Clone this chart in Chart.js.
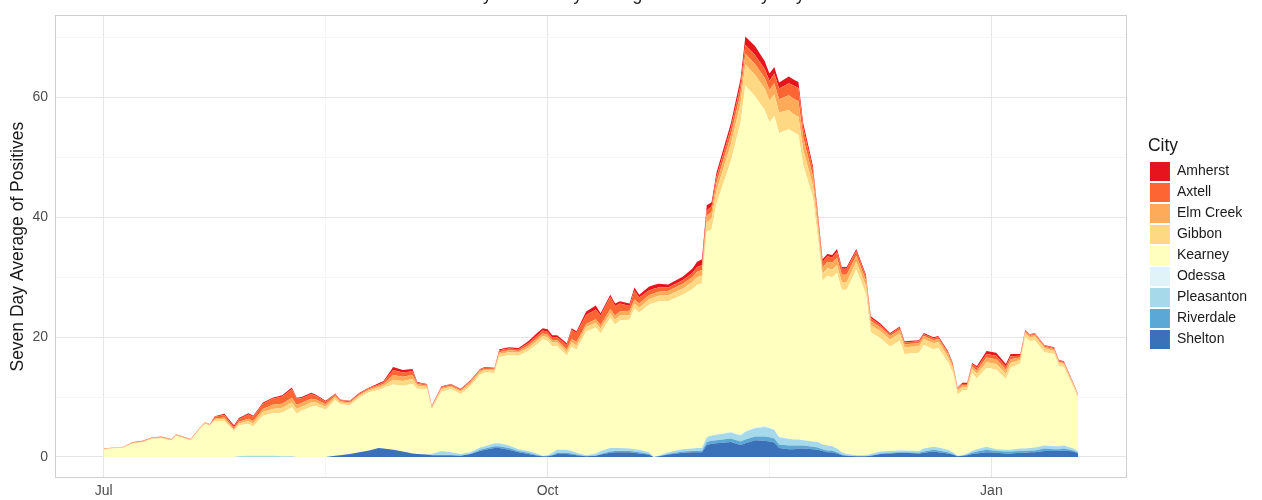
<!DOCTYPE html>
<html><head><meta charset="utf-8">
<script src="https://cdn.jsdelivr.net/npm/chart.js@4.4.1/dist/chart.umd.min.js"></script>
<style>html,body{margin:0;padding:0;background:#fff;}#wrap{position:relative;width:1262px;height:500px;}</style>
</head><body><div id="wrap"><canvas id="c" width="1262" height="500"></canvas></div>
<script>
// Days since Jul 1
const days = [0,2,4,6,8,10,12,14,15,17,
 18,20,21,22,23,25,27,28,30,31,
 33,35,37,39,40,41,43,44,46,48,
 49,51,53,55,57,58,60,62,64,65,
 67,68,70,72,74,76,78,79,81,82,
 84,86,88,90,91,92,93,94,96,97,
 98,100,102,103,105,106,107,109,110,111,
 113,114,115,117,120,122,123,124,125,126,
 127,130,132,133,135,137,138,139,140,142,
 143,144,145,147,148,149,150,151,152,153,
 154,156,158,159,161,163,165,166,169,170,
 172,173,175,176,177,178,179,180,181,183,
 185,187,188,190,191,192,193,195,197,198,
 199,201,202];

const shelton = [0,0,0,0,0,0,0,0,0,0,
 0,0,0,0,0,0,0,0,0,0,
 0,0,0,0,0,0,0,0,0,0.2,
 0.3,0.5,0.8,1.1,1.5,1.4,1.2,0.9,0.6,0.5,
 0.4,0.3,0.3,0.3,0.2,0.5,1.0,1.2,1.5,1.5,
 1.2,0.8,0.5,0.2,0.1,0.1,0.3,0.5,0.5,0.4,
 0.3,0.1,0.2,0.4,0.7,0.8,0.8,0.8,0.7,0.6,
 0.4,0,0.1,0.4,0.7,0.8,0.8,0.8,2.0,2.2,
 2.3,2.5,2.0,2.3,2.8,2.7,2.6,2.4,1.5,1.3,
 1.3,1.4,1.4,1.3,1.2,1.0,0.8,0.8,0.6,0.3,
 0.2,0.1,0.1,0.2,0.5,0.6,0.7,0.7,0.6,0.7,
 0.9,0.8,0.6,0.4,0.1,0.2,0.3,0.5,0.6,0.8,
 0.7,0.6,0.6,0.7,0.7,0.8,0.8,1.0,1.0,1.0,
 1.1,0.9,0.6];

const riverdale = [0,0,0,0,0,0,0,0,0,0,
 0,0,0,0,0,0,0,0,0,0,
 0,0,0,0,0,0,0,0,0,0,
 0,0,0,0,0,0,0,0,0,0,
 0,0,0,0,0,0,0.2,0.2,0.3,0.3,
 0.3,0.2,0.2,0.1,0,0,0,0.2,0.2,0.2,
 0.1,0,0,0.1,0.2,0.2,0.2,0.2,0.2,0.2,
 0.1,0,0,0.1,0.2,0.2,0.2,0.2,0.5,0.5,
 0.5,0.6,0.6,0.6,0.6,0.7,0.7,0.7,0.6,0.6,
 0.6,0.5,0.5,0.4,0.4,0.3,0.3,0.3,0.2,0.1,
 0,0,0,0,0.1,0.1,0.1,0.1,0.1,0.2,
 0.3,0.3,0.2,0.1,0,0,0.1,0.2,0.3,0.4,
 0.3,0.3,0.3,0.3,0.3,0.3,0.3,0.4,0.3,0.3,
 0.3,0.2,0.1];

const pleasanton = [0,0,0,0,0,0,0,0,0,0,
 0,0,0,0,0,0,0,0.1,0.2,0.2,
 0.2,0.2,0.1,0.1,0,0,0,0,0,0,
 0,0,0,0,0,0,0,0,0,0,
 0,0.2,0.7,0.5,0.3,0.3,0.4,0.4,0.5,0.5,
 0.4,0.3,0.3,0.2,0.1,0.2,0.4,0.5,0.5,0.4,
 0.3,0.2,0.4,0.5,0.6,0.5,0.5,0.4,0.4,0.4,
 0.3,0,0.1,0.3,0.4,0.4,0.5,0.5,0.8,0.9,
 0.9,1.0,1.0,1.3,1.4,1.6,1.5,1.4,1.2,1.1,
 1.0,1.0,0.9,0.9,0.9,0.8,0.8,0.7,0.6,0.4,
 0.3,0.2,0.2,0.3,0.3,0.3,0.3,0.3,0.3,0.5,
 0.5,0.5,0.4,0.3,0.1,0.1,0.2,0.3,0.4,0.5,
 0.3,0.3,0.3,0.4,0.4,0.4,0.5,0.5,0.5,0.5,
 0.5,0.3,0.2];

const odessa = [0,0,0,0,0,0,0,0,0,0,
 0,0,0,0,0,0,0,0,0,0,
 0,0,0,0,0,0,0,0,0,0,
 0,0,0,0,0,0,0,0,0,0,
 0,0,0,0,0,0,0,0,0,0,
 0,0,0,0,0,0,0,0,0,0,
 0,0,0,0,0,0,0,0,0,0,
 0,0,0,0,0,0,0,0,0,0,
 0,0.1,0.1,0.1,0.1,0.2,0.1,0.1,0.1,0.1,
 0,0,0,0,0,0,0,0,0,0,
 0,0,0,0,0,0,0,0,0,0,
 0,0,0,0,0,0,0,0,0,0,
 0,0,0,0,0,0,0,0,0,0,
 0,0,0];

const kearney = [1.2,1.4,1.5,2.2,2.4,3.0,3.1,2.7,3.5,3.0,
 2.7,4.7,5.5,5.2,6.0,6.0,4.3,5.2,5.3,4.9,
 6.7,7.1,7.3,8.2,7.2,7.7,8.4,8.5,7.9,9.3,
 8.5,8.1,9.1,9.7,9.7,10.1,10.9,11.0,11.6,10.9,
 10.9,7.4,9.9,10.5,10.0,11.0,12.1,12.3,11.7,14.4,
 15.1,15.6,16.7,18.4,19.4,19.1,17.8,17.3,15.7,17.4,
 17.2,20.6,21.0,19.6,21.7,20.6,21.3,21.5,23.5,22.9,
 24.6,25.7,25.8,25.2,25.8,26.6,27.2,27.5,34.3,34.4,
 38.5,45.2,52.1,57.7,55.3,52.7,51.0,52.3,50.7,51.6,
 51.3,50.9,45.9,40.7,34.2,27.3,28.3,28.2,29.3,27.1,
 27.4,31.0,26.9,20.3,18.9,17.4,18.3,16.1,16.4,17.3,
 16.3,16.6,14.6,13.2,10.2,10.8,10.5,13.0,11.8,13.2,
 13.3,11.8,13.7,14.2,18.6,17.8,17.9,15.6,15.4,13.4,
 13.1,10.2,8.9];

const gibbon = [0.1,0.1,0.1,0.1,0.1,0.1,0.1,0.1,0.1,0.1,
 0.1,0.1,0.1,0.1,0.2,0.3,0.2,0.3,0.5,0.5,
 0.6,0.7,0.8,0.8,0.8,0.7,0.7,0.6,0.5,0.4,
 0.3,0.3,0.3,0.3,0.4,0.4,0.8,0.8,0.8,0.5,
 0.4,0.3,0.4,0.4,0.4,0.4,0.4,0.4,0.4,0.5,
 0.5,0.5,0.5,0.6,0.6,0.6,0.6,0.6,0.6,0.7,
 0.7,0.8,0.8,0.8,0.8,0.8,0.8,0.8,0.8,0.8,
 0.9,0.9,0.9,1.0,1.0,1.2,1.3,1.3,1.6,1.8,
 2.2,2.8,3.2,3.5,3.6,3.6,3.6,3.6,3.4,3.2,
 3.0,3.0,2.6,2.0,1.6,1.2,1.3,1.3,1.3,1.3,
 1.3,1.3,1.3,1.2,1.2,1.2,1.2,1.1,1.1,1.0,
 1.0,1.0,0.9,0.8,0.6,0.6,0.6,0.7,0.8,0.9,
 0.9,0.9,0.8,0.6,0.6,0.6,0.6,0.6,0.5,0.5,
 0.5,0.4,0.3];

const elmCreek = [0.05,0.05,0.05,0.1,0.1,0.1,0.1,0.1,0.1,0.1,
 0.1,0.1,0.1,0.1,0.2,0.3,0.2,0.3,0.4,0.4,
 0.5,0.7,0.7,0.8,0.7,0.6,0.6,0.5,0.4,0.3,
 0.2,0.2,0.2,0.2,0.3,0.3,0.8,0.7,0.7,0.3,
 0.2,0.2,0.2,0.2,0.2,0.3,0.3,0.2,0.2,0.3,
 0.3,0.3,0.4,0.4,0.4,0.4,0.4,0.4,0.5,0.6,
 0.6,0.5,0.6,0.6,0.7,0.7,0.7,0.7,0.7,0.7,
 0.7,0.7,0.7,0.7,0.8,0.8,0.9,0.9,1.1,1.1,
 1.3,1.5,1.7,1.8,1.8,1.8,1.8,1.9,2.2,2.5,
 2.6,2.6,2.0,1.5,1.2,1.0,1.1,1.1,1.2,1.2,
 1.2,1.0,1.0,0.7,0.6,0.6,0.6,0.5,0.5,0.5,
 0.5,0.5,0.5,0.4,0.3,0.3,0.3,0.4,0.5,0.8,
 0.8,0.7,0.6,0.4,0.3,0.3,0.3,0.3,0.3,0.2,
 0.2,0.2,0.1];

const axtell = [0.05,0.05,0.05,0.1,0.1,0.1,0.1,0.1,0.1,0.1,
 0.1,0.1,0.1,0.1,0.3,0.4,0.3,0.4,0.7,0.7,
 0.9,1.0,1.2,1.4,1.0,0.8,0.8,0.6,0.4,0.3,
 0.2,0.2,0.2,0.2,0.2,0.3,0.8,0.7,0.6,0.2,
 0.2,0.1,0.2,0.2,0.2,0.2,0.2,0.2,0.2,0.3,
 0.3,0.3,0.4,0.5,0.5,0.5,0.4,0.5,0.7,1.5,
 1.5,1.5,1.6,1.6,2.0,1.6,1.3,0.8,1.5,1.0,
 0.8,0.8,0.7,0.6,0.6,0.7,0.8,0.8,0.9,0.9,
 1.0,1.2,1.4,1.5,1.5,1.5,1.5,1.6,1.8,2.0,
 2.2,2.2,1.6,1.2,1.0,0.9,0.9,0.9,1.0,1.0,
 1.0,0.8,0.6,0.5,0.4,0.3,0.4,0.3,0.3,0.3,
 0.3,0.3,0.3,0.3,0.2,0.2,0.2,0.4,0.5,0.6,
 0.6,0.5,0.5,0.3,0.2,0.2,0.2,0.2,0.2,0.2,
 0.2,0.1,0.1];

const amherst = [0,0,0,0,0,0,0,0,0,0,
 0,0,0,0,0.1,0.2,0.3,0.2,0.2,0.2,
 0.2,0.2,0.2,0.3,0.2,0.2,0.2,0.2,0.2,0.1,
 0.1,0.1,0.1,0.1,0.2,0.2,0.5,0.4,0.4,0.1,
 0.1,0.1,0.1,0.1,0.1,0.1,0.1,0.1,0.1,0.2,
 0.2,0.2,0.3,0.4,0.4,0.4,0.4,0.3,0.3,0.3,
 0.3,0.6,0.7,0.4,0.4,0.4,0.4,0.4,0.5,0.5,
 0.6,0.6,0.6,0.5,0.6,0.7,0.9,1.0,0.8,0.7,
 0.7,0.8,1.0,1.4,1.5,1.3,1.2,1.1,1.0,1.1,
 1.0,1.0,0.8,0.6,0.5,0.5,0.4,0.4,0.5,0.3,
 0.3,0.3,0.3,0.3,0.3,0.2,0.2,0.2,0.2,0.2,
 0.2,0.2,0.2,0.2,0.1,0.2,0.2,0.2,0.3,0.5,
 0.5,0.4,0.4,0.3,0.1,0.1,0.1,0.1,0.1,0.1,
 0.1,0.1,0.1];

const cityNames = ['Shelton','Riverdale','Pleasanton','Odessa','Kearney','Gibbon','Elm Creek','Axtell','Amherst'];
const cityValues = [shelton, riverdale, pleasanton, odessa, kearney, gibbon, elmCreek, axtell, amherst];
const cityColors = ['#3a71b8','#5ba8d6','#a6d9e9','#e0f3f8','#ffffbf','#fed883','#fdab58','#fd6633','#e6141c'];

const monthDays = [0, 92, 184];
const monthLabels = ['Jul', 'Oct', 'Jan'];
const minorDays = [46, 138];
const yMajor = [0, 20, 40, 60];

Chart.defaults.font.family = "'Liberation Sans', Arial, Helvetica, sans-serif";

const datasets = cityNames.map((name, i) => ({
  label: name,
  data: days.map((d, j) => ({x: d, y: cityValues[i][j]})),
  backgroundColor: cityColors[i],
  borderColor: cityColors[i],
  borderWidth: 0,
  pointRadius: 0,
  pointHoverRadius: 0,
  tension: 0,
  fill: i === 0 ? 'origin' : '-1'
}));

const panelBorder = {
  id: 'panelBorder',
  afterDatasetsDraw(chart) {
    const {ctx, chartArea: a} = chart;
    ctx.save();
    ctx.strokeStyle = '#cfcfcf';
    ctx.lineWidth = 1;
    ctx.strokeRect(Math.round(a.left) + 0.5, Math.round(a.top) + 0.5, Math.round(a.right - a.left) - 1, Math.round(a.bottom - a.top) - 1);
    ctx.restore();
  }
};

const topTitle = {
  id: 'topTitle',
  afterDraw(chart) {
    const {ctx, chartArea: a} = chart;
    ctx.save();
    ctx.font = "17.5px 'Liberation Sans', Arial, sans-serif";
    ctx.fillStyle = '#1a1a1a';
    ctx.textAlign = 'center';
    ctx.textBaseline = 'alphabetic';
    ctx.fillText('Buffalo County Seven Day Average of Positives by City', (a.left + a.right) / 2, 0);
    ctx.restore();
  }
};

new Chart(document.getElementById('c'), {
  type: 'line',
  data: {datasets},
  plugins: [panelBorder, topTitle],
  options: {
    responsive: false,
    animation: false,
    devicePixelRatio: 1,
    events: [],
    layout: {padding: {top: 10, right: 5, bottom: 0, left: 0}},
    plugins: {
      tooltip: {enabled: false},
      legend: {
        position: 'right',
        align: 'start',
        reverse: true,
        title: {display: true, text: 'City', color: '#1a1a1a', font: {size: 17.5}, position: 'start', padding: {top: 127, bottom: 2}},
        labels: {boxWidth: 20, boxHeight: 19, padding: 2, color: '#1a1a1a', font: {size: 14}}
      }
    },
    scales: {
      x: {
        type: 'linear',
        min: -10.1,
        max: 212.1,
        afterBuildTicks(scale) { scale.ticks = monthDays.concat(minorDays).sort((a, b) => a - b).map(v => ({value: v})); },
        afterFit(scale) { scale.height = 22; },
        ticks: {
          autoSkip: false, maxRotation: 0, padding: 5, color: '#4d4d4d', font: {size: 14},
          callback: (v) => { const k = monthDays.indexOf(v); return k >= 0 ? monthLabels[k] : ''; }
        },
        grid: {
          drawTicks: false,
          color: (c) => monthDays.includes(c.tick && c.tick.value) ? '#e6e6e6' : '#f3f3f3',
          lineWidth: (c) => monthDays.includes(c.tick && c.tick.value) ? 1 : 0.8
        },
        border: {display: false}
      },
      y: {
        type: 'linear',
        stacked: true,
        min: -3.51,
        max: 73.71,
        afterFit(scale) { scale.width = 55; },
        ticks: {
          stepSize: 10, includeBounds: false, padding: 7, color: '#4d4d4d', font: {size: 14},
          callback: (v) => yMajor.includes(v) ? String(v) : ''
        },
        title: {display: true, text: 'Seven Day Average of Positives', color: '#1a1a1a', font: {size: 17.5}, padding: {top: 8, bottom: 0}},
        grid: {
          drawTicks: false,
          color: (c) => yMajor.includes(c.tick && c.tick.value) ? '#e6e6e6' : '#f3f3f3',
          lineWidth: (c) => yMajor.includes(c.tick && c.tick.value) ? 1 : 0.8
        },
        border: {display: false}
      },
      gap: {
        type: 'linear',
        position: 'right',
        display: true,
        afterFit(scale) { scale.width = 21; },
        ticks: {display: false},
        grid: {display: false, drawTicks: false},
        border: {display: false}
      }
    }
  }
});
</script>
</body></html>
